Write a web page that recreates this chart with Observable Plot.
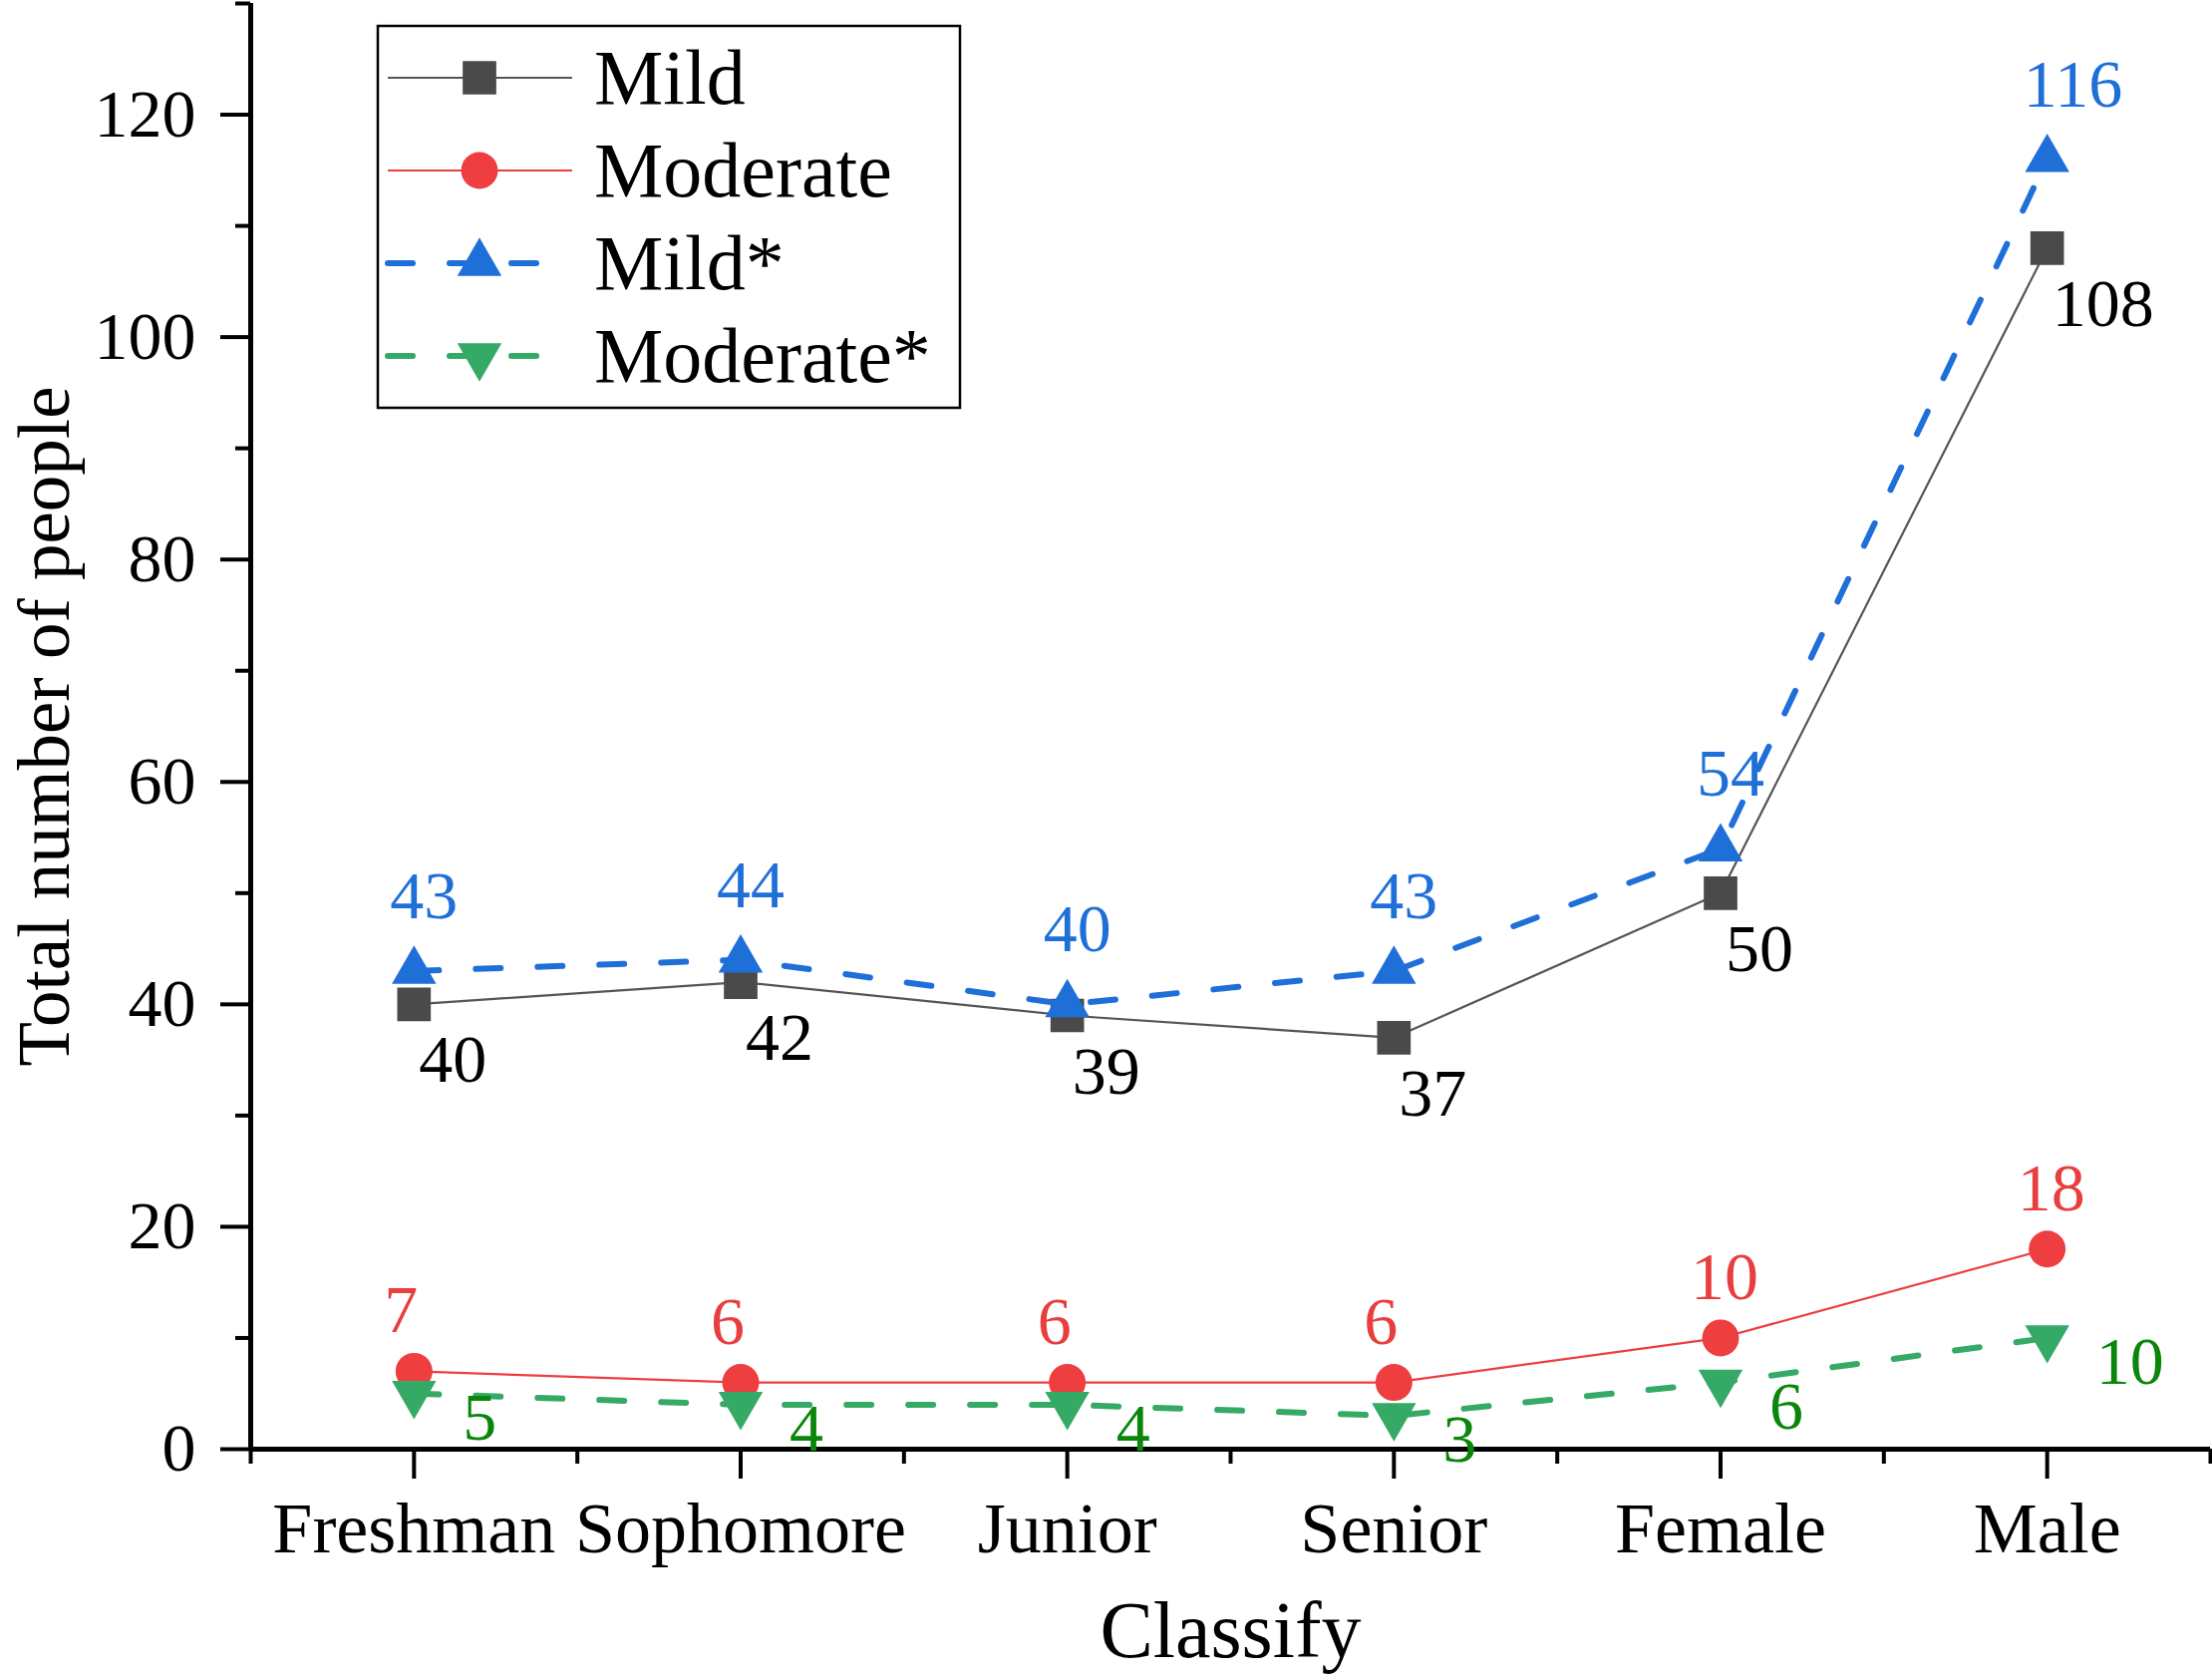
<!DOCTYPE html>
<html><head><meta charset="utf-8">
<script src="https://cdn.jsdelivr.net/npm/d3@7"></script>
<script src="https://cdn.jsdelivr.net/npm/@observablehq/plot@0.6"></script>
<style>
html,body{margin:0;padding:0;background:#fff;}
#chart{position:relative;width:2219px;height:1684px;}
</style></head><body><div id="chart"></div>
<script>
const categories = ["Freshman","Sophomore","Junior","Senior","Female","Male"];
const mild = [40,42,39,37,50,108];
const moderate = [7,6,6,6,10,18];
const mildStar = [43,44,40,43,54,116];
const moderateStar = [5,4,4,3,6,10];
const seriesNames = ["Mild","Moderate","Mild*","Moderate*"];
const yMajorTicks = [0,20,40,60,80,100,120];
const yMinorTicks = [10,30,50,70,90,110,130];
const xTitle = "Classify";
const yTitle = "Total number of people";

const triangleDown = {
  draw(context, size) {
    const y = Math.sqrt(size / (Math.sqrt(3) * 3));
    context.moveTo(0, y * 2);
    context.lineTo(-Math.sqrt(3) * y, -y);
    context.lineTo(Math.sqrt(3) * y, -y);
    context.closePath();
  }
};

const styles = [
  {fill:"#4a4a4a", line:"#555555", width:2.2, dash:null, symbol:"square", r:19, label:"#000000", dx:5, dy:78},
  {fill:"#ee3e40", line:"#ee3e40", width:2.2, dash:null, symbol:"circle", r:18.5, label:"#e83e3e", dx:-30, dy:-39},
  {fill:"#1f6fd9", line:"#1f6fd9", width:6, dash:"25,37", symbol:"triangle", r:16.5, label:"#1f6fd9", dx:-24, dy:-53},
  {fill:"#35a966", line:"#35a966", width:6, dash:"25,37", symbol:triangleDown, r:16.5, label:"#0a860a", dx:49, dy:46}
];
const seriesValues = [mild, moderate, mildStar, moderateStar];

const marks = [];
seriesValues.forEach((vals, k) => {
  const s = styles[k];
  const rows = vals.map((v, i) => ({x: i, y: v}));
  marks.push(Plot.line(rows, {x:"x", y:"y", stroke:s.line, strokeWidth:s.width,
    strokeDasharray: s.dash || undefined, strokeLinecap: s.dash ? "round" : "butt"}));
  marks.push(Plot.dot(rows, {x:"x", y:"y", symbol:s.symbol, r:s.r, fill:s.fill, stroke:"none"}));
});
seriesValues.forEach((vals, k) => {
  const s = styles[k];
  const rows = vals.map((v, i) => ({x: i, y: v}));
  marks.push(Plot.text(rows, {x:"x", y:"y", text: d => String(d.y), fill:s.label,
    textAnchor:"start", lineAnchor:"bottom", dx:s.dx, dy:s.dy, fontSize:68}));
});

const chart = Plot.plot({
  width: 2219,
  height: 1684,
  marginLeft: 251,
  marginRight: 2,
  marginTop: 3,
  marginBottom: 231,
  style: {fontFamily: "'Liberation Serif', 'Times New Roman', serif", color: "#000", background: "#fff", overflow: "visible"},
  x: {type: "linear", domain: [-0.5, 5.5]},
  y: {type: "linear", domain: [0, 130]},
  marks: [
    Plot.axisY(yMajorTicks, {tickSize:30, tickPadding:25, fontSize:68, strokeWidth:4, label:null, fill:"#000"}),
    Plot.axisY(yMinorTicks, {tickSize:15, tickFormat: () => "", strokeWidth:4, label:null}),
    Plot.axisX(d3.range(categories.length), {tickSize:30, tickPadding:22, fontSize:72, strokeWidth:4,
      tickFormat: i => categories[i], label:null, fill:"#000"}),
    Plot.axisX(d3.range(-0.5, categories.length, 1), {tickSize:15, tickFormat: () => "", strokeWidth:4, label:null}),
    Plot.ruleX([-0.5], {stroke:"#000", strokeWidth:5}),
    Plot.ruleY([0], {stroke:"#000", strokeWidth:5}),
    ...marks,
    Plot.text([xTitle], {frameAnchor:"bottom", lineAnchor:"bottom", dy:208, fontSize:80, fill:"#000"}),
    Plot.text([yTitle], {frameAnchor:"left", textAnchor:"middle", lineAnchor:"bottom", rotate:-90, dx:-183, fontSize:73, fill:"#000"})
  ]
});
document.getElementById("chart").appendChild(chart);

// Legend
const svg = d3.select(chart);
const lg = svg.append("g").attr("class", "legend");
lg.append("rect").attr("x", 379).attr("y", 26).attr("width", 584).attr("height", 383)
  .attr("fill", "#fff").attr("stroke", "#000").attr("stroke-width", 2.5);
const rowY = [78, 171, 264, 357];
seriesNames.forEach((name, k) => {
  const s = styles[k];
  const y = rowY[k];
  lg.append("line").attr("x1", 389).attr("x2", 574).attr("y1", y).attr("y2", y)
    .attr("stroke", s.line).attr("stroke-width", s.width)
    .attr("stroke-dasharray", s.dash)
    .attr("stroke-linecap", s.dash ? "round" : "butt");
  const sym = typeof s.symbol === "string"
    ? {square: d3.symbolSquare, circle: d3.symbolCircle, triangle: d3.symbolTriangle}[s.symbol]
    : s.symbol;
  lg.append("path").attr("transform", `translate(481,${y})`)
    .attr("d", d3.symbol(sym, Math.PI * s.r * s.r)())
    .attr("fill", s.fill);
  lg.append("text").attr("x", 596).attr("y", y + 26).attr("font-size", 78)
    .attr("text-anchor", "start").attr("fill", "#000").text(name);
});
</script>
</body></html>
